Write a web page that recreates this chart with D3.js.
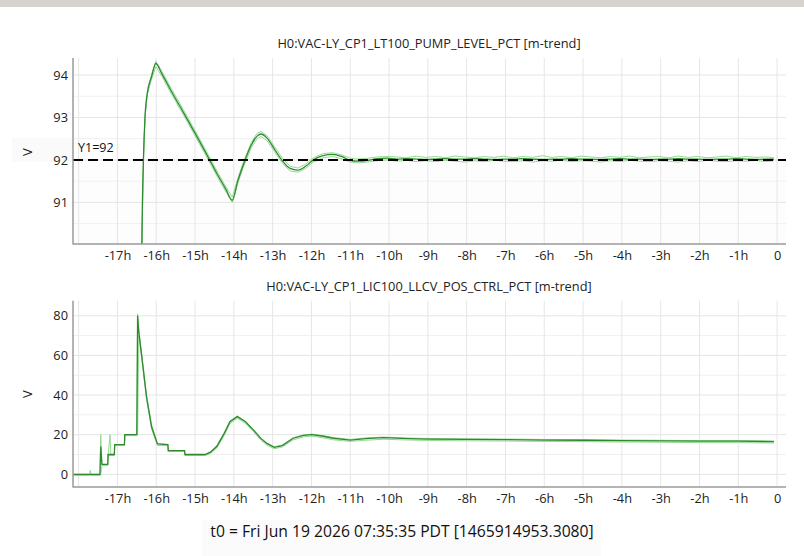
<!DOCTYPE html>
<html>
<head>
<meta charset="utf-8">
<script src="https://cdn.jsdelivr.net/npm/d3@7"></script>
<style>
  body { margin: 0; background: #fff; }
  svg { display: block; font-family: "Open Sans", "Noto Sans", sans-serif; }
</style>
</head>
<body>
<svg id="chart" width="804" height="556"></svg>
<script>
// hour ticks shared by both panels
const hourTicks = [-17, -16, -15, -14, -13, -12, -11, -10, -9, -8, -7, -6, -5, -4, -3, -2, -1, 0];
const hourGrid = [-18, -17, -16, -15, -14, -13, -12, -11, -10, -9, -8, -7, -6, -5, -4, -3, -2, -1, 0];

// LT100 pump level (hours before t0), mean / min / max of the minute trend
const levelTime = [-18.14, -16.45, -16.40, -16.37, -16.33, -16.29, -16.23, -16.12, -16.01, -15.85, -15.6, -15.3, -15.0, -14.7, -14.4, -14.2, -14.04, -13.9, -13.75, -13.55, -13.4, -13.3, -13.15, -12.95, -12.75, -12.55, -12.35, -12.15, -11.95, -11.7, -11.45, -11.2, -11.0, -10.8, -10.55, -10.3, -10.05,
  -9.8, -9.55, -9.3, -9.05, -8.8, -8.55, -8.3, -8.05, -7.8, -7.55, -7.3, -7.05, -6.8, -6.55, -6.3, -6.05, -5.8, -5.55, -5.3, -5.05, -4.8, -4.55, -4.3, -4.05, -3.8, -3.55, -3.3, -3.05, -2.8, -2.55, -2.3, -2.05, -1.8, -1.55, -1.3, -1.05, -0.8, -0.55, -0.3, -0.08];
const levelMean = [60, 75, 86.0, 90.0, 92.0, 93.0, 93.57, 93.96, 94.27, 94.02, 93.6, 93.12, 92.63, 92.13, 91.62, 91.3, 91.05, 91.5, 91.9, 92.35, 92.56, 92.61, 92.52, 92.25, 91.98, 91.8, 91.76, 91.85, 92.0, 92.1, 92.13, 92.07, 91.99, 91.97, 91.99, 92.03, 92.04,
  92.02, 92.03, 92.02, 92.01, 92.02, 92.03, 92.02, 92.02, 92.03, 92.02, 92.01, 92.02, 92.02, 92.03, 92.02, 92.01, 92.02, 92.02, 92.03, 92.02, 92.02, 92.01, 92.02, 92.03, 92.02, 92.02, 92.01, 92.02, 92.02, 92.03, 92.02, 92.02, 92.01, 92.02, 92.02, 92.03, 92.02, 92.01, 92.02, 92.02];
const levelMax = [60, 75, 86.0, 90.0, 92.0, 93.0, 93.6, 94.02, 94.32, 94.08, 93.66, 93.18, 92.69, 92.19, 91.68, 91.36, 91.12, 91.56, 91.96, 92.41, 92.63, 92.67, 92.58, 92.31, 92.04, 91.85, 91.81, 91.9, 92.05, 92.15, 92.17, 92.11, 92.04, 92.02, 92.04, 92.07, 92.08,
  92.07, 92.05, 92.09, 92.06, 92.08, 92.05, 92.09, 92.07, 92.05, 92.08, 92.06, 92.09, 92.05, 92.08, 92.06, 92.1, 92.06, 92.08, 92.05, 92.09, 92.07, 92.05, 92.08, 92.06, 92.09, 92.05, 92.07, 92.08, 92.05, 92.09, 92.06, 92.08, 92.05, 92.07, 92.09, 92.05, 92.08, 92.06, 92.07, 92.05];
const levelMin = [60, 75, 86.0, 90.0, 92.0, 93.0, 93.54, 93.9, 94.2, 93.96, 93.54, 93.06, 92.57, 92.07, 91.56, 91.24, 91.0, 91.44, 91.84, 92.29, 92.5, 92.55, 92.46, 92.19, 91.92, 91.74, 91.71, 91.8, 91.95, 92.05, 92.08, 92.02, 91.95, 91.93, 91.95, 91.98, 92.0,
  91.97, 91.99, 91.96, 91.98, 91.96, 91.99, 91.97, 91.95, 91.98, 91.96, 91.99, 91.97, 91.96, 91.98, 91.95, 91.98, 91.97, 91.99, 91.96, 91.98, 91.97, 91.95, 91.98, 91.96, 91.99, 91.97, 91.96, 91.98, 91.97, 91.95, 91.98, 91.96, 91.99, 91.97, 91.96, 91.98, 91.97, 91.99, 91.96, 91.98];
const levelTicks = [91, 92, 93, 94];
const levelMinor = [90.5, 91.5, 92.5, 93.5];
const levelSetpoint = 92;

// LIC100 LLCV position control
const valveTime = [-18.14, -17.72, -17.70, -17.68, -17.45, -17.43, -17.40, -17.25, -17.24, -17.19, -17.17, -17.08, -17.07, -16.82, -16.81, -16.50, -16.48, -16.45, -16.37, -16.25, -16.12, -15.97, -15.70, -15.69, -15.27, -15.26, -14.74, -14.60, -14.44, -14.25, -14.10, -13.91, -13.70, -13.50, -13.30, -13.15, -12.96, -12.75, -12.47, -12.20, -11.99, -11.70, -11.43, -11.00, -10.60, -10.15, -9.50, -9.00, -8.00, -7.00, -6.00, -5.00, -4.00, -3.00, -2.00, -1.00, -0.08];
const valveMean = [0, 0, 0, 0, 0, 14, 5, 5, 10, 10, 10, 10, 15, 15, 20, 20, 80, 72, 59, 39, 24, 15.3, 15, 12, 12, 10, 10, 11.2, 14, 20.5, 26.6, 29.1, 26.5, 22.4, 18, 15.6, 13.6, 14.5, 18.2, 19.6, 20.0, 19.2, 18.2, 17.3, 18.0, 18.5, 18.0, 17.8, 17.6, 17.5, 17.3, 17.2, 17.0, 16.9, 16.7, 16.7, 16.5];
const valveMax = [0, 0, 2, 0, 0, 20, 5, 5, 10, 20, 10, 10, 15, 15, 20, 20, 81, 73, 60, 40, 25, 15.5, 15, 12, 12, 10, 10, 11.5, 14.5, 21, 27, 29.4, 26.8, 22.7, 18.3, 15.9, 13.9, 14.8, 18.5, 19.9, 20.3, 19.5, 18.5, 17.6, 18.4, 18.8, 18.3, 18.1, 17.9, 17.8, 17.6, 17.5, 17.3, 17.2, 17.0, 17.0, 16.8];
const valveMin = [-0.6, -0.6, -0.6, -0.6, -0.6, 0, 4.5, 4.5, 9.5, 9.5, 9.5, 9.5, 14.5, 14.5, 19.5, 19.5, 20, 70, 58, 38, 23, 14.6, 14.5, 11.5, 11.5, 9.5, 9.5, 10.5, 13.2, 19.5, 25.6, 28.3, 25.8, 21.6, 17.2, 14.8, 12.9, 13.8, 17.4, 18.9, 19.3, 18.4, 17.4, 16.6, 17.2, 17.7, 17.3, 17.1, 16.9, 16.8, 16.6, 16.5, 16.3, 16.2, 16.0, 16.0, 15.8];
const valveTicks = [0, 20, 40, 60, 80];
const valveMinor = [10, 30, 50, 70];

const svg = d3.select('#chart');
const left = 73, right = 786;

// window title strip
svg.append('rect').attr('x', 0).attr('y', 0).attr('width', 804).attr('height', 7).attr('fill', '#d7d4d0');

const x = d3.scaleLinear().domain([-18.145, 0.23]).range([left, right]);

const drawPanel = (cfg) => {
  const y = d3.scaleLinear().domain(cfg.yDomain).range([cfg.bottom, cfg.top]);
  const g = svg.append('g');

  g.append('text')
    .attr('x', 429).attr('y', cfg.titleY)
    .attr('text-anchor', 'middle')
    .attr('font-size', 12.8).attr('fill', '#222')
    .text(cfg.title);

  if (cfg.shadeBelow !== undefined) {
    g.append('rect')
      .attr('x', left).attr('y', y(cfg.shadeBelow))
      .attr('width', right - left).attr('height', cfg.bottom - y(cfg.shadeBelow))
      .attr('fill', '#fdfdfd');
    g.append('rect')
      .attr('x', 12).attr('y', y(cfg.shadeBelow) - 22)
      .attr('width', left - 12).attr('height', 24)
      .attr('fill', '#fafafa');
  }

  // grid
  g.selectAll('.minor').data(cfg.minor).enter().append('line')
    .attr('x1', left).attr('x2', right)
    .attr('y1', d => y(d)).attr('y2', d => y(d))
    .attr('stroke', '#f0f0f0');
  g.selectAll('.major').data(cfg.ticks).enter().append('line')
    .attr('x1', left).attr('x2', right)
    .attr('y1', d => y(d)).attr('y2', d => y(d))
    .attr('stroke', '#e4e4e4');
  g.selectAll('.vgrid').data(hourGrid).enter().append('line')
    .attr('x1', d => x(d)).attr('x2', d => x(d))
    .attr('y1', cfg.top).attr('y2', cfg.bottom)
    .attr('stroke', '#e6e6e6');

  // traces
  const clipId = 'clip' + cfg.id;
  g.append('clipPath').attr('id', clipId)
    .append('rect').attr('x', left).attr('y', cfg.top)
    .attr('width', right - left).attr('height', cfg.bottom - cfg.top);

  const plot = g.append('g').attr('clip-path', 'url(#' + clipId + ')');
  const path = (vals, curve) => d3.line()
    .x((d, i) => x(cfg.time[i]))
    .y(d => y(d))
    .curve(curve)(vals);

  plot.append('path').attr('d', path(cfg.lo, d3.curveLinear))
    .attr('fill', 'none').attr('stroke', '#94d994').attr('stroke-width', 1);
  plot.append('path').attr('d', path(cfg.hi, d3.curveLinear))
    .attr('fill', 'none').attr('stroke', '#94d994').attr('stroke-width', 1);
  plot.append('path').attr('d', path(cfg.mean, cfg.curve))
    .attr('fill', 'none').attr('stroke', '#2f8a2f').attr('stroke-width', 1.3);

  if (cfg.marker !== undefined) {
    g.append('line')
      .attr('x1', left).attr('x2', right)
      .attr('y1', y(cfg.marker)).attr('y2', y(cfg.marker))
      .attr('stroke', '#000').attr('stroke-width', 2)
      .attr('stroke-dasharray', '10,5');
    g.append('text')
      .attr('x', 78).attr('y', y(cfg.marker) - 8)
      .attr('font-size', 12.5).attr('fill', '#111')
      .text('Y1=' + cfg.marker);
  }

  // axes
  const xAxis = g.append('g')
    .attr('transform', 'translate(0,' + cfg.bottom + ')')
    .call(d3.axisBottom(x).tickValues(hourTicks).tickSize(0).tickPadding(7)
      .tickFormat(d => d === 0 ? '0' : d + 'h'));
  const yAxis = g.append('g')
    .attr('transform', 'translate(' + left + ',0)')
    .call(d3.axisLeft(y).tickValues(cfg.ticks).tickSize(0).tickPadding(5)
      .tickFormat(d3.format('d')));

  [xAxis, yAxis].forEach(a => {
    a.select('.domain').remove();
    a.selectAll('text').attr('font-size', 12.8).attr('fill', '#222')
      .attr('font-family', '"Open Sans", "Noto Sans", sans-serif');
  });

  g.append('line')
    .attr('x1', left).attr('x2', left).attr('y1', cfg.top).attr('y2', cfg.bottom + 0.5)
    .attr('stroke', '#9a9a9a').attr('stroke-width', 1.5);
  g.append('line')
    .attr('x1', left).attr('x2', right).attr('y1', cfg.bottom).attr('y2', cfg.bottom)
    .attr('stroke', '#9a9a9a').attr('stroke-width', 1.5);

  g.append('text')
    .attr('transform', 'translate(32,' + cfg.labelY + ') rotate(-90)')
    .attr('text-anchor', 'middle')
    .attr('font-size', 13).attr('fill', '#222')
    .text('V');
};

drawPanel({
  id: 1,
  title: 'H0:VAC-LY_CP1_LT100_PUMP_LEVEL_PCT [m-trend]',
  titleY: 48,
  top: 58, bottom: 244,
  yDomain: [90.02, 94.4],
  ticks: levelTicks, minor: levelMinor,
  time: levelTime, mean: levelMean, lo: levelMin, hi: levelMax,
  curve: d3.curveMonotoneX,
  marker: levelSetpoint,
  shadeBelow: levelSetpoint,
  labelY: 152
});

drawPanel({
  id: 2,
  title: 'H0:VAC-LY_CP1_LIC100_LLCV_POS_CTRL_PCT [m-trend]',
  titleY: 291,
  top: 300.7, bottom: 487,
  yDomain: [-6.4, 87.6],
  ticks: valveTicks, minor: valveMinor,
  time: valveTime, mean: valveMean, lo: valveMin, hi: valveMax,
  curve: d3.curveLinear,
  labelY: 394
});

// footer with reference time
svg.append('rect').attr('x', 202).attr('y', 520).attr('width', 399).attr('height', 36).attr('fill', '#fbfbfb');
svg.append('text')
  .attr('x', 402).attr('y', 537)
  .attr('text-anchor', 'middle')
  .attr('font-size', 15.7).attr('fill', '#111')
  .text('t0 = Fri Jun 19 2026 07:35:35 PDT [1465914953.3080]');
</script>
</body>
</html>
